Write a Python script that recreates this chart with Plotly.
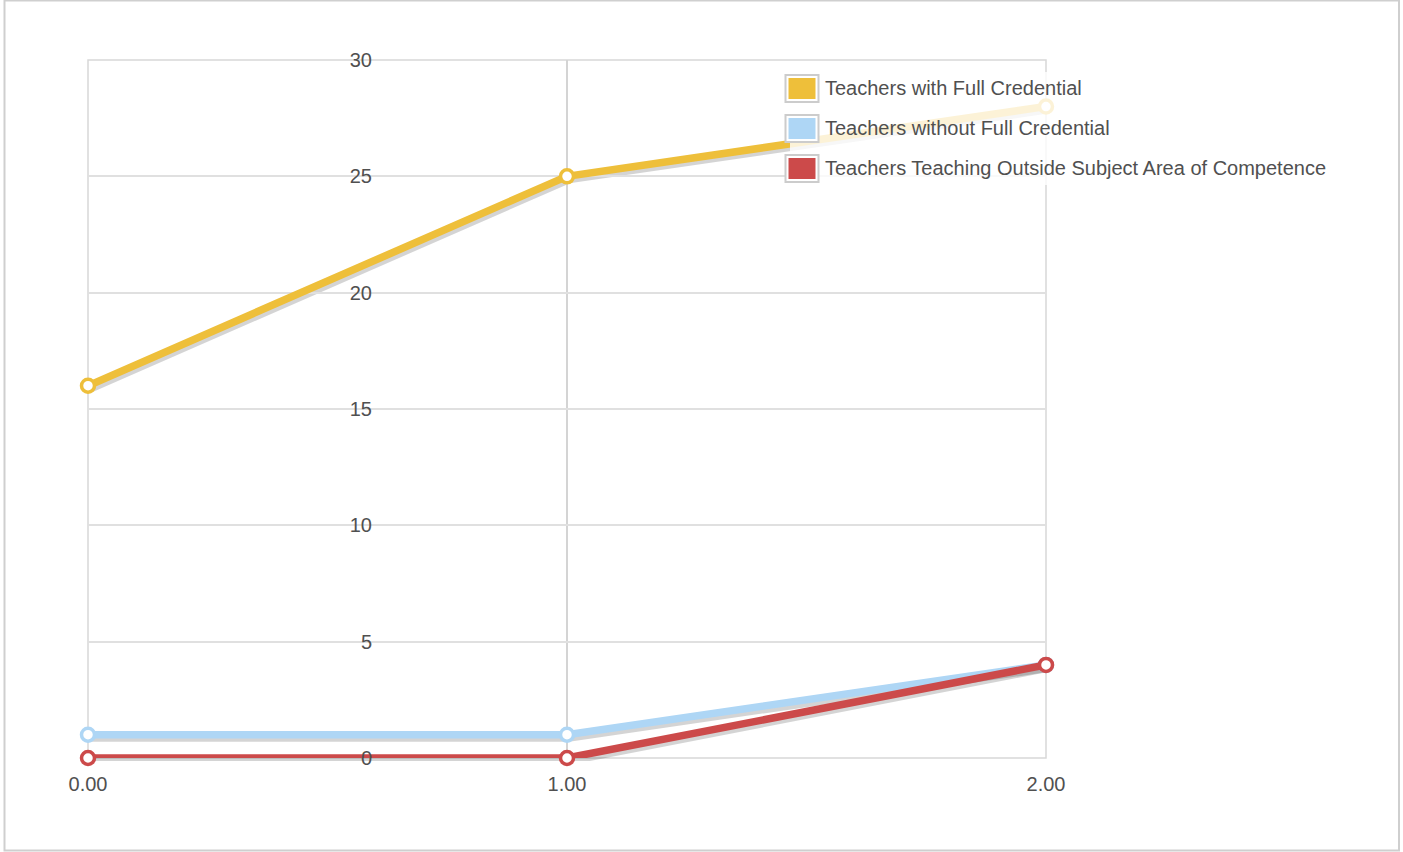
import plotly.graph_objects as go

# ---- data ----
x_vals = [0, 1, 2]
series_names = [
    "Teachers with Full Credential",
    "Teachers without Full Credential",
    "Teachers Teaching Outside Subject Area of Competence",
]
full_credential = [16, 25, 28]
without_credential = [1, 1, 4]
outside_subject = [0, 0, 4]
y_ticks = [0, 5, 10, 15, 20, 25, 30]
x_ticks = [0, 1, 2]

series_values = [full_credential, without_credential, outside_subject]
colors = ["#EEBF3A", "#AED6F5", "#CC4A4A"]

# ---- geometry ----
W, H = 1403, 852
L, T = 88, 60
PW, PH = 958, 698
SX, SY = 2, 3  # shadow offset in px
paper_w = PW + SX
paper_h = PH + SY
R = W - L - paper_w
B = H - T - paper_h

def px_x(px):
    return (px - L) / paper_w

def px_y(py):
    return (T + paper_h - py) / paper_h

FONT = "Liberation Sans, Arial, sans-serif"
TXT = "#505050"
FS = 20

fig = go.Figure()

# shadows (base subplot, shifted domain)
for vals in series_values:
    fig.add_trace(go.Scatter(
        x=x_vals, y=vals, mode="lines",
        line=dict(color="rgba(0,0,0,0.17)", width=8),
        xaxis="x", yaxis="y", showlegend=False, hoverinfo="skip",
        cliponaxis=False,
    ))

# main lines
for name, vals, c in zip(series_names, series_values, colors):
    fig.add_trace(go.Scatter(
        x=x_vals, y=vals, mode="lines+markers", name=name,
        line=dict(color=c, width=7.5),
        marker=dict(size=13, color="white", line=dict(color=c, width=3.5)),
        xaxis="x2", yaxis="y2", showlegend=False, cliponaxis=False,
    ))

# legend entries (text; swatches drawn as shapes below)
for i, name in enumerate(series_names):
    fig.add_trace(go.Scatter(
        x=[None], y=[None], mode="markers", name=name,
        marker=dict(symbol="square", size=16, color="rgba(0,0,0,0)"),
        xaxis="x2", yaxis="y2", legendgroup=f"g{i}",
    ))

shapes = [
    # outer page border
    dict(type="rect", xref="paper", yref="paper",
         x0=px_x(4.5), x1=px_x(1399), y0=px_y(850.5), y1=px_y(0.5),
         line=dict(color="#cfcfcf", width=2), layer="below"),
    # plot frame
    dict(type="rect", xref="x2 domain", yref="y2 domain",
         x0=0, x1=1, y0=0, y1=1,
         line=dict(color="#d8d8d8", width=1.5), layer="below"),
    # legend background
    dict(type="rect", xref="paper", yref="paper",
         x0=px_x(790), x1=px_x(1332), y0=px_y(185), y1=px_y(72),
         fillcolor="rgba(255,255,255,0.8)", line=dict(width=0), layer="above"),
]
for i, c in enumerate(colors):
    top = 75 + 40 * i
    shapes.append(dict(type="rect", xref="paper", yref="paper",
                       x0=px_x(785.5), x1=px_x(818.5),
                       y0=px_y(top + 27), y1=px_y(top),
                       fillcolor="white", line=dict(color="#cccccc", width=2),
                       layer="above"))
    shapes.append(dict(type="rect", xref="paper", yref="paper",
                       x0=px_x(788.5), x1=px_x(815.5),
                       y0=px_y(top + 24), y1=px_y(top + 3),
                       fillcolor=c, line=dict(width=0), layer="above"))

fig.update_layout(
    width=W, height=H,
    margin=dict(l=L, r=R, t=T, b=B, pad=0),
    paper_bgcolor="white", plot_bgcolor="rgba(0,0,0,0)",
    font=dict(family=FONT, size=FS, color=TXT),
    xaxis=dict(domain=[SX / paper_w, 1], range=[0, 2], visible=False,
               anchor="y", fixedrange=True),
    yaxis=dict(domain=[0, PH / paper_h], range=[0, 30], visible=False,
               anchor="x", fixedrange=True),
    xaxis2=dict(domain=[0, PW / paper_w], range=[0, 2], anchor="y2",
                tickvals=x_ticks, tickformat=".2f",
                showgrid=True, gridcolor="#d4d4d4", gridwidth=1.5,
                zeroline=False, showline=False, ticks="",
                ticklabelstandoff=12, fixedrange=True),
    yaxis2=dict(domain=[SY / paper_h, 1], range=[0, 30], anchor="free",
                position=px_x(372), tickvals=y_ticks,
                showgrid=True, gridcolor="#e0e0e0", gridwidth=1.5,
                zeroline=False, showline=False, ticks="", fixedrange=True),
    legend=dict(x=px_x(785), y=px_y(68), xanchor="left", yanchor="top",
                bgcolor="rgba(0,0,0,0)", tracegroupgap=11,
                font=dict(size=FS, color=TXT), itemsizing="trace"),
    showlegend=True,
    shapes=shapes,
)

fig.write_html("out.html", config={"displayModeBar": False},
               post_script="document.body.style.margin='0';")
